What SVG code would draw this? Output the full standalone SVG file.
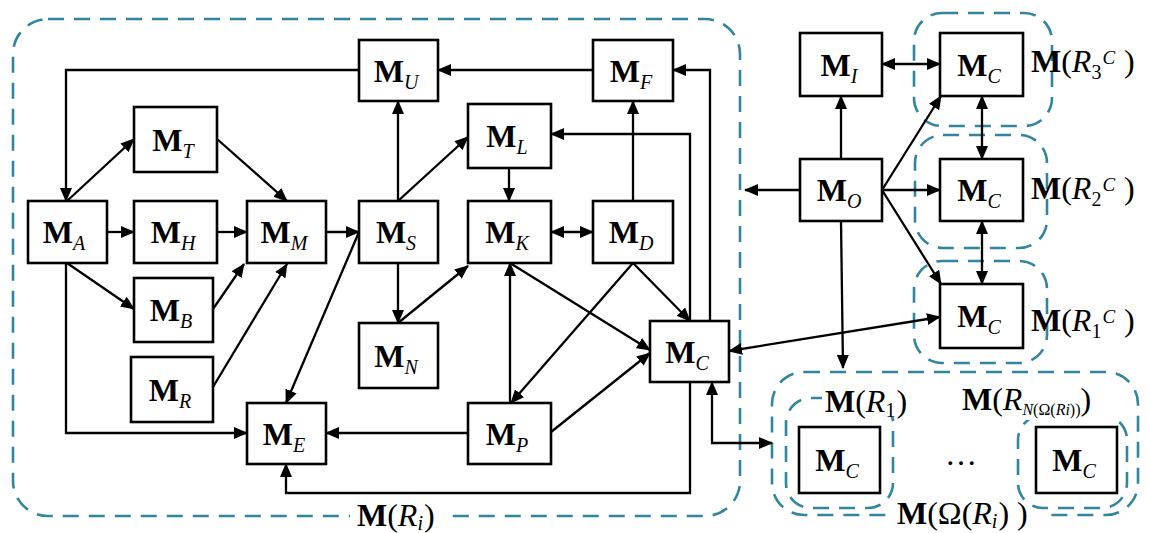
<svg xmlns="http://www.w3.org/2000/svg" width="1149" height="533" viewBox="0 0 1149 533">
<style>
.g{fill:none;stroke:#31859C;stroke-width:2.6;stroke-dasharray:16 10}
.n rect{fill:#fff;stroke:#000;stroke-width:2.6}
.c path{fill:none;stroke:#000;stroke-width:2.3}
.e{marker-end:url(#ah)}
.d{marker-start:url(#ah);marker-end:url(#ah)}
text{font-family:"Liberation Serif","Times New Roman",serif;font-size:32px;fill:#000}
.t{text-anchor:middle}
.b{font-weight:bold}
.i{font-style:italic}
.s{font-size:20px;font-style:italic}
.bg{fill:#fff}
</style>
<defs>
<marker id="ah" viewBox="0 0 14 12" refX="13" refY="6" markerWidth="14" markerHeight="12" markerUnits="userSpaceOnUse" orient="auto-start-reverse"><path d="M0,0L14,6L0,12z" fill="#000"/></marker>
</defs>
<g id="groups">
<rect class="g" x="13" y="19" width="727" height="497" rx="35"/>
<rect class="g" x="914" y="13" width="138" height="113" rx="28"/>
<rect class="g" x="915" y="135" width="132" height="113" rx="28"/>
<rect class="g" x="914" y="261" width="133" height="102" rx="28"/>
<rect class="g" x="772" y="372" width="366" height="143" rx="32"/>
<rect class="g" x="786" y="398" width="107" height="110" rx="25"/>
<rect class="g" x="1018" y="415" width="109" height="93" rx="25"/>
</g>
<g id="connectors" class="c">
<path class="e" d="M359,70H66V201"/>
<path class="e" d="M67,201L134,139"/>
<path class="e" d="M217,139L287,201"/>
<path class="e" d="M107,232H134"/>
<path class="e" d="M217,232H247"/>
<path class="e" d="M326,232H359"/>
<path class="e" d="M67,263L134,309"/>
<path class="e" d="M213,309L244,264"/>
<path class="e" d="M213,387L287,264"/>
<path class="e" d="M66,263V433H247"/>
<path class="e" d="M359,232L286,403"/>
<path class="e" d="M398,201V101"/>
<path class="e" d="M398,201L468,137"/>
<path class="e" d="M398,263V323"/>
<path class="e" d="M398,323L468,266"/>
<path class="e" d="M509,168V201"/>
<path class="d" d="M551,232H593"/>
<path class="e" d="M633,201V101"/>
<path class="e" d="M593,70H438"/>
<path class="e" d="M710,321V70H673"/>
<path class="e" d="M690,321V134H551"/>
<path class="e" d="M510,403V263"/>
<path class="e" d="M510,263L650,350"/>
<path class="e" d="M633,263L511,403"/>
<path class="e" d="M633,263L690,321"/>
<path class="e" d="M551,432L650,353"/>
<path class="e" d="M468,433H326"/>
<path class="e" d="M690,382V493H286V464"/>
<path class="d" d="M712,382V443H772"/>
<path class="e" d="M800,190H745"/>
<path class="e" d="M841,159V96"/>
<path class="d" d="M882,64H940"/>
<path class="e" d="M882,190L941,96"/>
<path class="e" d="M882,190H940"/>
<path class="e" d="M882,190L941,284"/>
<path class="d" d="M982,96V159"/>
<path class="d" d="M982,221V284"/>
<path class="d" d="M940,317L729,351"/>
<path class="e" d="M841,221L843,368"/>
</g>
<g id="MA" class="n"><rect x="28" y="201" width="79" height="62"/><text class="t" x="64" y="243"><tspan class="b">M</tspan><tspan class="s" dy="7">A</tspan></text></g>
<g id="MH" class="n"><rect x="134" y="201" width="83" height="62"/><text class="t" x="173" y="243"><tspan class="b">M</tspan><tspan class="s" dy="7">H</tspan></text></g>
<g id="MM" class="n"><rect x="247" y="201" width="79" height="62"/><text class="t" x="284" y="243"><tspan class="b">M</tspan><tspan class="s" dy="7">M</tspan></text></g>
<g id="MS" class="n"><rect x="359" y="201" width="79" height="62"/><text class="t" x="396" y="243"><tspan class="b">M</tspan><tspan class="s" dy="7">S</tspan></text></g>
<g id="MT" class="n"><rect x="134" y="107" width="83" height="65"/><text class="t" x="173" y="151"><tspan class="b">M</tspan><tspan class="s" dy="7">T</tspan></text></g>
<g id="MU" class="n"><rect x="359" y="40" width="79" height="61"/><text class="t" x="396" y="82"><tspan class="b">M</tspan><tspan class="s" dy="7">U</tspan></text></g>
<g id="ML" class="n"><rect x="468" y="104" width="83" height="64"/><text class="t" x="507" y="147"><tspan class="b">M</tspan><tspan class="s" dy="7">L</tspan></text></g>
<g id="MK" class="n"><rect x="468" y="201" width="83" height="62"/><text class="t" x="507" y="243"><tspan class="b">M</tspan><tspan class="s" dy="7">K</tspan></text></g>
<g id="MD" class="n"><rect x="593" y="201" width="80" height="62"/><text class="t" x="631" y="243"><tspan class="b">M</tspan><tspan class="s" dy="7">D</tspan></text></g>
<g id="MF" class="n"><rect x="593" y="40" width="80" height="61"/><text class="t" x="631" y="82"><tspan class="b">M</tspan><tspan class="s" dy="7">F</tspan></text></g>
<g id="MB" class="n"><rect x="134" y="278" width="79" height="64"/><text class="t" x="171" y="321"><tspan class="b">M</tspan><tspan class="s" dy="7">B</tspan></text></g>
<g id="MR" class="n"><rect x="131" y="357" width="82" height="65"/><text class="t" x="170" y="401"><tspan class="b">M</tspan><tspan class="s" dy="7">R</tspan></text></g>
<g id="ME" class="n"><rect x="247" y="403" width="79" height="61"/><text class="t" x="284" y="445"><tspan class="b">M</tspan><tspan class="s" dy="7">E</tspan></text></g>
<g id="MN" class="n"><rect x="359" y="323" width="79" height="65"/><text class="t" x="396" y="367"><tspan class="b">M</tspan><tspan class="s" dy="7">N</tspan></text></g>
<g id="MP" class="n"><rect x="468" y="403" width="83" height="61"/><text class="t" x="507" y="445"><tspan class="b">M</tspan><tspan class="s" dy="7">P</tspan></text></g>
<g id="MC" class="n"><rect x="650" y="321" width="79" height="61"/><text class="t" x="687" y="363"><tspan class="b">M</tspan><tspan class="s" dy="7">C</tspan></text></g>
<g id="MI" class="n"><rect x="800" y="33" width="82" height="63"/><text class="t" x="839" y="76"><tspan class="b">M</tspan><tspan class="s" dy="7">I</tspan></text></g>
<g id="MC3" class="n"><rect x="940" y="33" width="83" height="63"/><text class="t" x="979" y="76"><tspan class="b">M</tspan><tspan class="s" dy="7">C</tspan></text></g>
<g id="MO" class="n"><rect x="800" y="159" width="82" height="62"/><text class="t" x="839" y="201"><tspan class="b">M</tspan><tspan class="s" dy="7">O</tspan></text></g>
<g id="MC2" class="n"><rect x="940" y="159" width="83" height="62"/><text class="t" x="979" y="201"><tspan class="b">M</tspan><tspan class="s" dy="7">C</tspan></text></g>
<g id="MC1" class="n"><rect x="940" y="284" width="83" height="64"/><text class="t" x="979" y="327"><tspan class="b">M</tspan><tspan class="s" dy="7">C</tspan></text></g>
<g id="MCw1" class="n"><rect x="799" y="427" width="81" height="66"/><text class="t" x="837" y="471"><tspan class="b">M</tspan><tspan class="s" dy="7">C</tspan></text></g>
<g id="MCw2" class="n"><rect x="1036" y="427" width="81" height="66"/><text class="t" x="1074" y="471"><tspan class="b">M</tspan><tspan class="s" dy="7">C</tspan></text></g>
<g id="labels">
<rect class="bg" x="350" y="504" width="94" height="29"/>
<text x="357" y="526"><tspan class="b">M</tspan>(<tspan class="i">R</tspan><tspan class="s" dy="4">i</tspan><tspan dy="-4" dx="1">)</tspan></text>
<text x="1031" y="72"><tspan class="b">M</tspan>(<tspan class="i">R</tspan><tspan style="font-size:20px" dy="7">3</tspan><tspan class="s" style="font-size:19px" dy="-15" dx="1">C</tspan><tspan dy="8" dx="9">)</tspan></text>
<text x="1031" y="199"><tspan class="b">M</tspan>(<tspan class="i">R</tspan><tspan style="font-size:20px" dy="7">2</tspan><tspan class="s" style="font-size:19px" dy="-15" dx="1">C</tspan><tspan dy="8" dx="9">)</tspan></text>
<text x="1031" y="331"><tspan class="b">M</tspan>(<tspan class="i">R</tspan><tspan style="font-size:20px" dy="7">1</tspan><tspan class="s" style="font-size:19px" dy="-15" dx="1">C</tspan><tspan dy="8" dx="9">)</tspan></text>
<rect class="bg" x="822" y="387" width="94" height="30"/>
<text x="825" y="412"><tspan class="b">M</tspan>(<tspan class="i">R</tspan><tspan style="font-size:20px" dy="5">1</tspan><tspan dy="-5" dx="1">)</tspan></text>
<rect class="bg" x="958" y="386" width="162" height="34"/>
<text x="962" y="410"><tspan class="b">M</tspan>(<tspan class="i">R</tspan><tspan class="s" style="font-size:16px" dy="5">N</tspan><tspan style="font-size:16px">(Ω(</tspan><tspan class="s" style="font-size:16px">Ri</tspan><tspan style="font-size:16px">))</tspan><tspan dy="-5">)</tspan></text>
<text x="945" y="465">…</text>
<rect class="bg" x="894" y="510" width="148" height="23"/>
<text x="897" y="524"><tspan class="b">M</tspan>(Ω(<tspan class="i">R</tspan><tspan class="s" dy="4">i</tspan><tspan dy="-4" dx="1">)</tspan><tspan dx="8">)</tspan></text>
</g>
</svg>
